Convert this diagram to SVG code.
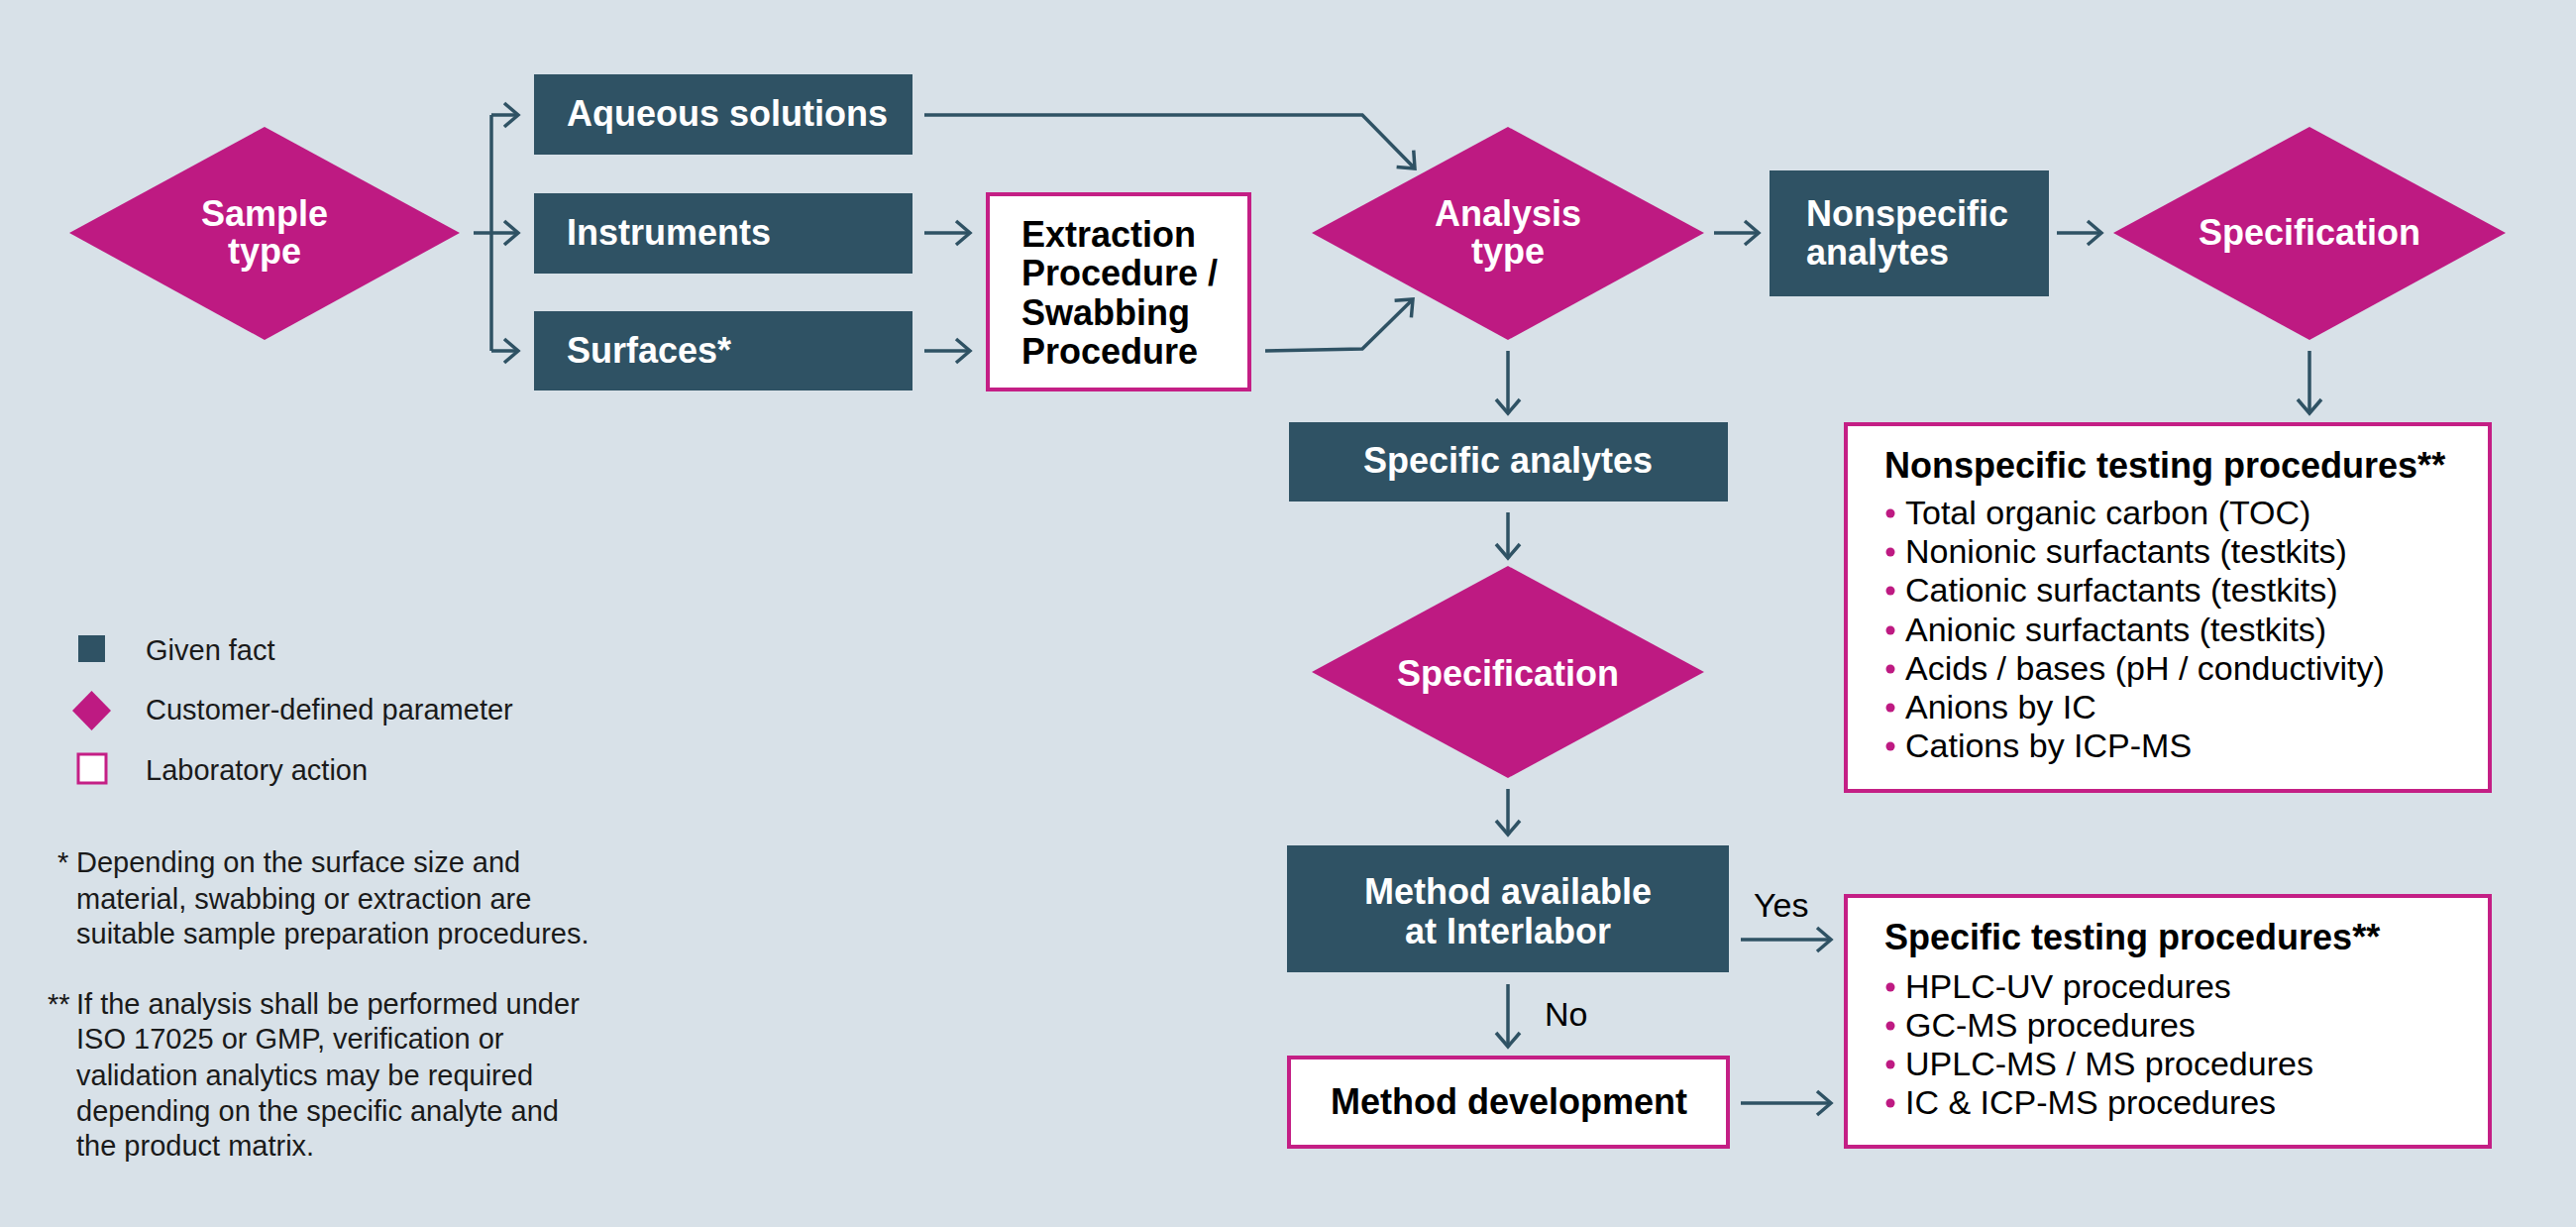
<svg xmlns="http://www.w3.org/2000/svg" width="2600" height="1238" viewBox="0 0 2600 1238">
<style>
.bg{fill:#d8e1e8}
.fact{fill:#2f5264}
.param{fill:#be1a82}
.lab{fill:#ffffff;stroke:#c41f85;stroke-width:4}
.wt{font-family:"Liberation Sans",Arial,sans-serif;font-weight:bold;font-size:36px;fill:#ffffff}
.bt{font-family:"Liberation Sans",Arial,sans-serif;font-weight:bold;font-size:36px;fill:#000000}
.it{font-family:"Liberation Sans",Arial,sans-serif;font-size:34px;fill:#000000}
.lg{font-family:"Liberation Sans",Arial,sans-serif;font-size:29px;fill:#1a1a1a}
.c{text-anchor:middle}
.dot{fill:#be1a82}
.conn path{fill:none;stroke:#2f5264;stroke-width:3.5;marker-end:url(#arr)}
.conn path.plain{marker-end:none}
</style>
<defs>
<marker id="arr" markerUnits="userSpaceOnUse" markerWidth="40" markerHeight="40" viewBox="-20 -20 40 40" refX="0" refY="0" orient="auto">
<path d="M -14 -12 L 0 0 L -14 12" fill="none" stroke="#2f5264" stroke-width="3.5"/>
</marker>
</defs>
<rect class="bg" x="0" y="0" width="2600" height="1238"/>

<g id="conn" class="conn">
<path class="plain" d="M 478 235 H 496"/>
<path class="plain" d="M 496 116 V 354"/>
<path d="M 496 116 H 523"/>
<path d="M 496 235 H 523"/>
<path d="M 496 354 H 523"/>
<path d="M 933 235 H 979"/>
<path d="M 933 354 H 979"/>
<path d="M 933 116 H 1375 L 1428 170"/>
<path d="M 1277 354 L 1375 352 L 1426 302"/>
<path d="M 1730 235 H 1775"/>
<path d="M 2076 235 H 2121"/>
<path d="M 2331 354 V 417"/>
<path d="M 1522 354 V 417"/>
<path d="M 1522 517 V 563"/>
<path d="M 1522 796 V 842"/>
<path d="M 1757 948 H 1848"/>
<path d="M 1522 993 V 1056"/>
<path d="M 1757 1113 H 1848"/>
</g>

<g id="sample-type">
<polygon class="param" points="70,235 267,128 464,235 267,343"/>
<text class="wt c" x="267" y="228">Sample</text>
<text class="wt c" x="267" y="266">type</text>
</g>
<g id="aqueous">
<rect class="fact" x="539" y="75" width="382" height="81"/>
<text class="wt" x="572" y="127">Aqueous solutions</text>
</g>
<g id="instruments">
<rect class="fact" x="539" y="195" width="382" height="81"/>
<text class="wt" x="572" y="247">Instruments</text>
</g>
<g id="surfaces">
<rect class="fact" x="539" y="314" width="382" height="80"/>
<text class="wt" x="572" y="366">Surfaces*</text>
</g>
<g id="extraction">
<rect class="lab" x="997" y="196" width="264" height="197"/>
<text class="bt" x="1031" y="249">Extraction</text>
<text class="bt" x="1031" y="288">Procedure /</text>
<text class="bt" x="1031" y="328">Swabbing</text>
<text class="bt" x="1031" y="367">Procedure</text>
</g>
<g id="analysis-type">
<polygon class="param" points="1324,235 1522,128 1720,235 1522,343"/>
<text class="wt c" x="1522" y="228">Analysis</text>
<text class="wt c" x="1522" y="266">type</text>
</g>
<g id="nonspecific-analytes">
<rect class="fact" x="1786" y="172" width="282" height="127"/>
<text class="wt" x="1823" y="228">Nonspecific</text>
<text class="wt" x="1823" y="267">analytes</text>
</g>
<g id="specification-1">
<polygon class="param" points="2133,235 2331,128 2529,235 2331,343"/>
<text class="wt c" x="2331" y="247">Specification</text>
</g>
<g id="nonspecific-testing">
<rect class="lab" x="1863" y="428" width="650" height="370"/>
<text class="bt" x="1902" y="482">Nonspecific testing procedures**</text>
<circle class="dot" cx="1908" cy="518" r="4.5"/><text class="it" x="1923" y="529">Total organic carbon (TOC)</text>
<circle class="dot" cx="1908" cy="557" r="4.5"/><text class="it" x="1923" y="568">Nonionic surfactants (testkits)</text>
<circle class="dot" cx="1908" cy="596" r="4.5"/><text class="it" x="1923" y="607">Cationic surfactants (testkits)</text>
<circle class="dot" cx="1908" cy="636" r="4.5"/><text class="it" x="1923" y="647">Anionic surfactants (testkits)</text>
<circle class="dot" cx="1908" cy="675" r="4.5"/><text class="it" x="1923" y="686">Acids / bases (pH / conductivity)</text>
<circle class="dot" cx="1908" cy="714" r="4.5"/><text class="it" x="1923" y="725">Anions by IC</text>
<circle class="dot" cx="1908" cy="753" r="4.5"/><text class="it" x="1923" y="764">Cations by ICP-MS</text>
</g>
<g id="specific-analytes">
<rect class="fact" x="1301" y="426" width="443" height="80"/>
<text class="wt c" x="1522" y="477">Specific analytes</text>
</g>
<g id="specification-2">
<polygon class="param" points="1324,678 1522,571 1720,678 1522,785"/>
<text class="wt c" x="1522" y="692">Specification</text>
</g>
<g id="method-available">
<rect class="fact" x="1299" y="853" width="446" height="128"/>
<text class="wt c" x="1522" y="912">Method available</text>
<text class="wt c" x="1522" y="952">at Interlabor</text>
</g>
<g id="method-development">
<rect class="lab" x="1301" y="1067" width="443" height="90"/>
<text class="bt c" x="1523" y="1124">Method development</text>
</g>
<g id="specific-testing">
<rect class="lab" x="1863" y="904" width="650" height="253"/>
<text class="bt" x="1902" y="958">Specific testing procedures**</text>
<circle class="dot" cx="1908" cy="996" r="4.5"/><text class="it" x="1923" y="1007">HPLC-UV procedures</text>
<circle class="dot" cx="1908" cy="1035" r="4.5"/><text class="it" x="1923" y="1046">GC-MS procedures</text>
<circle class="dot" cx="1908" cy="1074" r="4.5"/><text class="it" x="1923" y="1085">UPLC-MS / MS procedures</text>
<circle class="dot" cx="1908" cy="1113" r="4.5"/><text class="it" x="1923" y="1124">IC &amp; ICP-MS procedures</text>
</g>
<g id="labels">
<text class="it" x="1770" y="925">Yes</text>
<text class="it" x="1559" y="1035">No</text>
</g>

<g id="legend">
<rect class="fact" x="79" y="641" width="27" height="27"/>
<text class="lg" x="147" y="666">Given fact</text>
<polygon class="param" points="73,717 92.5,697 112,717 92.5,737"/>
<text class="lg" x="147" y="726">Customer-defined parameter</text>
<rect x="79" y="761" width="28" height="29" fill="#ffffff" stroke="#c41f85" stroke-width="3"/>
<text class="lg" x="147" y="787">Laboratory action</text>
</g>
<g id="footnotes">
<text class="lg" x="58" y="880">*</text>
<text class="lg" x="77" y="880">Depending on the surface size and</text>
<text class="lg" x="77" y="917">material, swabbing or extraction are</text>
<text class="lg" x="77" y="952">suitable sample preparation procedures.</text>
<text class="lg" x="48" y="1023">**</text>
<text class="lg" x="77" y="1023">If the analysis shall be performed under</text>
<text class="lg" x="77" y="1058">ISO 17025 or GMP, verification or</text>
<text class="lg" x="77" y="1095">validation analytics may be required</text>
<text class="lg" x="77" y="1131">depending on the specific analyte and</text>
<text class="lg" x="77" y="1166">the product matrix.</text>
</g>
</svg>
